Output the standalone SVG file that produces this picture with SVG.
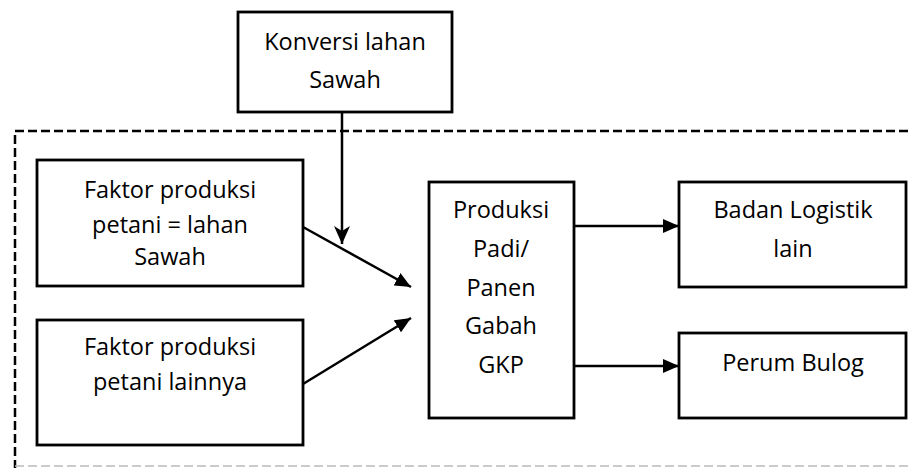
<svg xmlns="http://www.w3.org/2000/svg" width="908" height="468" viewBox="0 0 908 468">
<style>
.box{fill:#fff;stroke:#000;stroke-width:2.8}
.lbl{font-family:"Open Sans","Liberation Sans",sans-serif;font-size:23.5px;fill:#000;text-anchor:middle}
.con{stroke:#000;stroke-width:2.5;fill:none}
.dash{stroke:#000;stroke-width:2.5;fill:none;stroke-dasharray:9 4}
</style>
<defs>
<marker id="ah" viewBox="0 0 16 14" refX="16" refY="7" markerWidth="16" markerHeight="14" markerUnits="userSpaceOnUse" orient="auto">
<path d="M0,0 L16,7 L0,14 Z" fill="#000"/>
</marker>
<marker id="ahn" viewBox="0 0 18 16" refX="18" refY="8" markerWidth="18" markerHeight="16" markerUnits="userSpaceOnUse" orient="auto">
<path d="M0,0 L18,8 L0,16 L5,8 Z" fill="#000"/>
</marker>
</defs>
<g id="boundary">
<path class="dash" d="M908,131 H15 V468"/>
<path d="M15,466 H908" stroke="#bbb" stroke-width="1.5" stroke-dasharray="9 4" fill="none"/>
</g>
<g id="konversi">
<rect class="box" x="238" y="12" width="214" height="100"/>
<text class="lbl" x="345" y="50">Konversi lahan</text>
<text class="lbl" x="345" y="88">Sawah</text>
</g>
<g id="faktor1">
<rect class="box" x="37" y="160" width="266" height="126"/>
<text class="lbl" x="170" y="198">Faktor produksi</text>
<text class="lbl" x="170" y="233">petani = lahan</text>
<text class="lbl" x="170" y="265">Sawah</text>
</g>
<g id="faktor2">
<rect class="box" x="37" y="320" width="266" height="125"/>
<text class="lbl" x="170" y="355">Faktor produksi</text>
<text class="lbl" x="170" y="390">petani lainnya</text>
</g>
<g id="produksi">
<rect class="box" x="429" y="182" width="145" height="236"/>
<text class="lbl" x="501" y="218">Produksi</text>
<text class="lbl" x="501" y="257">Padi/</text>
<text class="lbl" x="501" y="296">Panen</text>
<text class="lbl" x="501" y="334">Gabah</text>
<text class="lbl" x="501" y="373">GKP</text>
</g>
<g id="badan">
<rect class="box" x="679" y="182" width="227" height="105"/>
<text class="lbl" x="793" y="218">Badan Logistik</text>
<text class="lbl" x="793" y="257">lain</text>
</g>
<g id="bulog">
<rect class="box" x="679" y="333" width="227" height="85"/>
<text class="lbl" x="793" y="371">Perum Bulog</text>
</g>
<g id="connectors">
<line class="con" x1="342" y1="112" x2="342" y2="244" marker-end="url(#ahn)"/>
<line class="con" x1="303" y1="227" x2="411" y2="287" marker-end="url(#ah)"/>
<line class="con" x1="303" y1="384" x2="411" y2="318" marker-end="url(#ah)"/>
<line class="con" x1="574" y1="226" x2="679" y2="226" marker-end="url(#ah)"/>
<line class="con" x1="574" y1="366" x2="679" y2="366" marker-end="url(#ah)"/>
</g>
</svg>
